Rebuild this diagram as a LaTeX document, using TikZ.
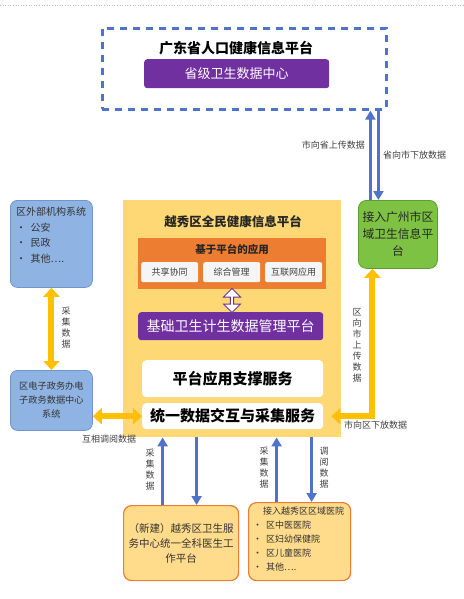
\documentclass[tikz,border=0pt]{standalone}
\usepackage{fontspec}
\setmainfont{Noto Sans CJK SC}
\usetikzlibrary{arrows.meta,shapes.arrows}
\definecolor{dblue}{HTML}{4F73C8}
\definecolor{pur}{HTML}{7030A0}
\definecolor{grn}{HTML}{7DC242}
\definecolor{grnd}{HTML}{5E9C35}
\definecolor{ylw}{HTML}{FED875}
\definecolor{org}{HTML}{ED7D31}
\definecolor{oarr}{HTML}{FFC000}
\definecolor{lblue}{HTML}{8FB4E3}
\definecolor{lblued}{HTML}{6F95CB}
\definecolor{bfill}{HTML}{FFDB8C}
\definecolor{lbl}{HTML}{404040}
\tikzset{
  purbox/.style={fill=pur,text=white,rounded corners=3pt,anchor=north west,inner sep=0pt},
  whbox/.style={fill=white,rounded corners=4pt,anchor=north west,inner sep=0pt,font=\fontsize{15}{17}\selectfont\bfseries},
  subbox/.style={fill=gray!8,rounded corners=2pt,anchor=north west,inner sep=0pt,minimum width=57pt,minimum height=20pt,font=\fontsize{9}{10}\selectfont,text=lbl},
  leftbox/.style={fill=lblue,draw=lblued,line width=0.8pt,rounded corners=7pt,anchor=north west,inner sep=0pt,text=black!80},
  botbox/.style={fill=bfill,draw=org,line width=1.2pt,rounded corners=8pt,anchor=north west,inner sep=0pt,text=black!80},
  barr/.style={draw=dblue,line width=2.6pt,-{Triangle[length=9pt,width=10pt]}},
  oar/.style={draw=oarr,line width=6pt,{Triangle[length=9pt,width=16pt]}-{Triangle[length=9pt,width=16pt]}},
  vlbl/.style={font=\fontsize{9}{11}\selectfont,text=lbl,align=center,inner sep=0pt},
  hlbl/.style={font=\fontsize{9}{11}\selectfont,text=lbl,inner sep=0pt}
}
\begin{document}
\begin{tikzpicture}[x=1pt,y=-1pt]
\useasboundingbox (0,0) rectangle (463,599);
\draw[gray!50,dotted,line width=0.6pt] (0,5) -- (463,5);
% province box
\node[draw=dblue,line width=2.6pt,dash pattern=on 7pt off 6pt,anchor=north west,minimum width=284pt,minimum height=81pt,inner sep=0pt] (prov) at (101,27) {};
\node[font=\fontsize{14}{16}\selectfont\bfseries,inner sep=0pt] (provt) at (236,48) {广东省人口健康信息平台};
\node[purbox,minimum width=185pt,minimum height=29pt,font=\fontsize{13}{15}\selectfont] (pdc) at (144,59) {省级卫生数据中心};
% green box
\node[fill=grn,draw=grnd,line width=0.8pt,rounded corners=8pt,anchor=north west,minimum width=79pt,minimum height=68pt,inner sep=0pt,align=center,font=\fontsize{11.8}{17}\selectfont,text=black!85] (grn) at (358,200) {接入广州市区\\域卫生信息平\\台};
% main yellow
\node[fill=ylw,anchor=north west,minimum width=218pt,minimum height=237pt,inner sep=0pt] (main) at (123,200) {};
\node[font=\fontsize{12.5}{14}\selectfont\bfseries,inner sep=0pt,text=black!85] (mt) at (233,222) {越秀区全民健康信息平台};
\node[fill=org,anchor=north west,minimum width=188pt,minimum height=51pt,inner sep=0pt] (app) at (138,238) {};
\node[font=\fontsize{10.5}{12}\selectfont\bfseries,inner sep=0pt,text=black!85] (appt) at (232,249) {基于平台的应用};
\node[subbox] (s1) at (141,262) {共享协同};
\node[subbox] (s2) at (203,262) {综合管理};
\node[subbox] (s3) at (265,262) {互联网应用};
\node[purbox,minimum width=185pt,minimum height=28pt,font=\fontsize{14}{16}\selectfont] (base) at (138,312) {基础卫生计生数据管理平台};
\node[double arrow,draw=pur,fill=white,line width=1pt,rotate=90,minimum height=24pt,minimum width=17pt,double arrow head extend=3pt,inner sep=0pt,shape border uses incircle] (da) at (232,300.5) {};
\node[whbox,minimum width=181pt,minimum height=37pt] (sup) at (142,360) {平台应用支撑服务};
\node[whbox,minimum width=181pt,minimum height=26pt] (uni) at (142,403) {统一数据交互与采集服务};
% left boxes
\node[leftbox,minimum width=82pt,minimum height=87pt] (l1) at (10,200) {};
\node[anchor=north west,inner sep=0pt,font=\fontsize{10}{15.5}\selectfont,text=black!80,align=left] (l1t) at (16,207) {区外部机构系统\\\textbullet\ \ 公安\\\textbullet\ \ 民政\\\textbullet\ \ 其他….};
\node[leftbox,minimum width=82pt,minimum height=60pt,align=center,font=\fontsize{9.2}{14}\selectfont] (l2) at (10,370) {区电子政务办电\\子政务数据中心\\系统};
% bottom boxes
\node[botbox,minimum width=115pt,minimum height=75pt,align=center,font=\fontsize{10.5}{15}\selectfont] (b1) at (123,505) {（新建）越秀区卫生服\\务中心统一全科医生工\\作平台};
\node[botbox,minimum width=102pt,minimum height=78pt] (b2) at (248,502) {};
\node[anchor=north west,inner sep=0pt,font=\fontsize{9}{14}\selectfont,text=black!80,align=left] (b2t) at (253,507) {\hspace{10pt}接入越秀区区域医院\\\textbullet\ \ 区中医医院\\\textbullet\ \ 区妇幼保健院\\\textbullet\ \ 区儿童医院\\\textbullet\ \ 其他….};
% province <-> green
\draw[barr] ([xshift=-27.5pt]grn.north) -- ([xshift=-27.5pt]grn.north |- prov.south);
\draw[barr] ([xshift=-19.5pt]grn.north |- prov.south) -- ([xshift=-19.5pt]grn.north);
\node[hlbl,anchor=east] (lb1) at (365,145) {市向省上传数据};
\node[hlbl,anchor=west] (lb2) at (383,155) {省向市下放数据};
% orange L arrow
\draw[oar,shorten >=8pt] ([xshift=-25.5pt]grn.south) |- (uni.east);
\node[vlbl] (lb3) at (357,345) {区\\向\\市\\上\\传\\数\\据};
\node[hlbl,anchor=west] (lb4) at (344,425) {市向区下放数据};
% left arrows
\draw[oar] (l1.south) -- (l2.north);
\node[vlbl] (lb5) at (66,328) {采\\集\\数\\据};
\draw[oar] (uni.west -| l2.east) -- (uni.west);
\node[hlbl] (lb6) at (109,439) {互相调阅数据};
% bottom arrows
\draw[barr] ([xshift=-18.5pt]b1.north) -- ([xshift=-18.5pt]b1.north |- main.south);
\draw[barr] ([xshift=15.5pt]b1.north |- main.south) -- ([xshift=15.5pt]b1.north);
\node[vlbl] (lb7) at (150,470) {采\\集\\数\\据};
\draw[barr] ([xshift=-23pt]b2.north) -- ([xshift=-23pt]b2.north |- main.south);
\draw[barr] ([xshift=12pt]b2.north |- main.south) -- ([xshift=12pt]b2.north);
\node[vlbl] (lb8) at (264,468) {采\\集\\数\\据};
\node[vlbl] (lb9) at (324,468) {调\\阅\\数\\据};
\end{tikzpicture}
\end{document}
